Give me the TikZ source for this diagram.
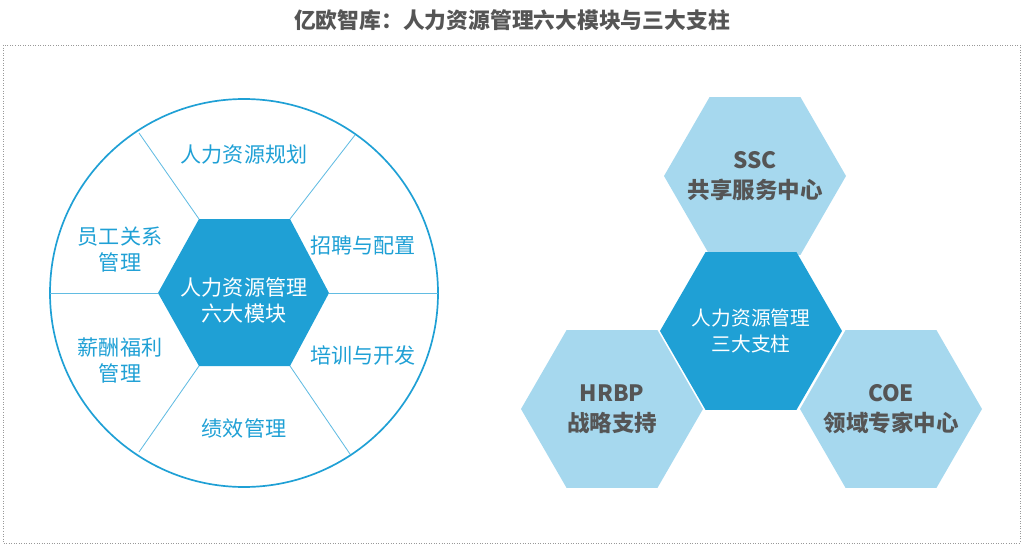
\documentclass[tikz,border=0pt]{standalone}
\usepackage{fontspec}
\setmainfont{Noto Sans CJK SC}
\usetikzlibrary{shapes.geometric, calc}
\definecolor{hrblue}{HTML}{1FA0D5}
\definecolor{hrlight}{HTML}{A6D8EE}
\definecolor{hrgray}{HTML}{555555}
\tikzset{
  hexa/.style={regular polygon, regular polygon sides=6, inner sep=0pt, outer sep=0pt, draw=none},
  modtext/.style={text=hrblue, font=\fontsize{15}{18.5}\selectfont, align=center},
  pillartext/.style={text=hrgray, font=\bfseries\fontsize{16}{21}\selectfont, align=center},
  spoke/.style={hrblue!70, line width=0.6pt}
}
\begin{document}
\begin{tikzpicture}[x=0.025cm, y=-0.025cm]

	\useasboundingbox (0,0) rectangle (1024,545);
	\draw[gray!80, dash pattern=on 0.6pt off 1.2pt] (3,45) rectangle (1020,543);

	\node[text=hrgray, font=\bfseries\fontsize{15.5}{18}\selectfont] (title) at (512,20) {亿欧智库：人力资源管理六大模块与三大支柱};

	% six modules
	\coordinate (c) at (244,293);
	\draw[hrblue, line width=1.2pt] (c) circle[radius=194];
	\coordinate (tl) at (199,219); \coordinate (tr) at (290,219);
	\coordinate (bl) at (199,366); \coordinate (br) at (290,366);
	\coordinate (ml) at (158,293); \coordinate (mr) at (329,293);
	\fill[hrblue] (ml) -- (tl) -- (tr) -- (mr) -- (br) -- (bl) -- cycle;
	\draw[spoke] (ml) -- (50,293);
	\draw[spoke] (mr) -- (438,293);
	\draw[spoke] (tl) -- (139,133);
	\draw[spoke] (tr) -- (355,135);
	\draw[spoke] (bl) -- (139,452);
	\draw[spoke] (br) -- (350,454);
	\node[text=white, font=\fontsize{15}{18.5}\selectfont, align=center] (coretext) at (244,300) {人力资源管理\\六大模块};

	\node[modtext] (plan) at (244,155) {人力资源规划};
	\node[modtext] (recruit) at (363,245) {招聘与配置};
	\node[modtext] (train) at (363,355) {培训与开发};
	\node[modtext] (perf) at (244,428) {绩效管理};
	\node[modtext] (relation) at (120,250) {员工关系\\管理};
	\node[modtext] (pay) at (120,360) {薪酬福利\\管理};

	% three pillars
	\node[hexa, fill=hrlight, minimum size=182*0.025cm] (ssc) at (755,176) {};
	\node[hexa, fill=hrlight, minimum size=182*0.025cm] (hrbp) at (612,409) {};
	\node[hexa, fill=hrlight, minimum size=182*0.025cm] (coe) at (891,409) {};
	\node[hexa, fill=hrblue, minimum size=182*0.025cm] (pillar) at (751,331) {};

	\node[pillartext] (ssctext) at (ssc) {SSC\\共享服务中心};
	\node[pillartext] (hrbptext) at (hrbp) {HRBP\\战略支持};
	\node[pillartext] (coetext) at (coe) {COE\\领域专家中心};
	\node[text=white, font=\fontsize{14}{18}\selectfont, align=center] (pillartext) at (751,331) {人力资源管理\\三大支柱};

\end{tikzpicture}
\end{document}
